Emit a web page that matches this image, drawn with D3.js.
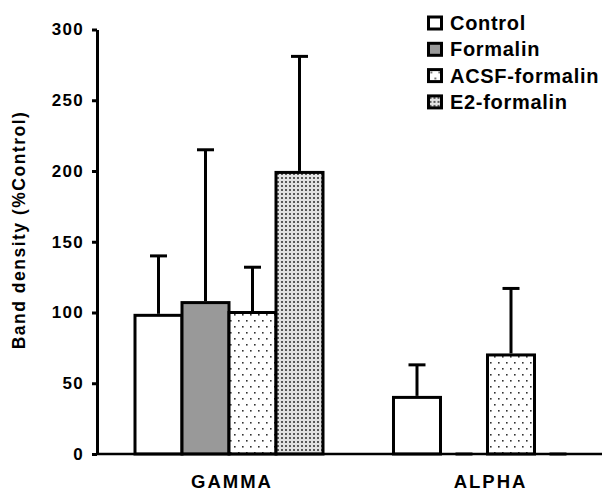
<!DOCTYPE html>
<html>
<head>
<meta charset="utf-8">
<script src="https://cdn.jsdelivr.net/npm/d3@7"></script>
<style>
  body { margin: 0; background: #fff; }
  svg text { font-family: Arial, "Liberation Sans", sans-serif; font-weight: bold; fill: #000; }
</style>
</head>
<body>
<div id="chart"></div>
<script>
// data
const groups = ["GAMMA", "ALPHA"];
const series = ["Control", "Formalin", "ACSF-formalin", "E2-formalin"];
const gammaMean = [98, 107, 100, 199];
const gammaErr = [42, 108, 32, 82];
const alphaMean = [40, 0, 70, 0];
const alphaErr = [23, 0, 47, 0];
const yTicks = [0, 50, 100, 150, 200, 250, 300];

const width = 606, height = 492;

const svg = d3.select("#chart").append("svg")
  .attr("width", width)
  .attr("height", height);

// patterns for the bar fills
const defs = svg.append("defs");

const sparse = defs.append("pattern")
  .attr("id", "sparseDots")
  .attr("patternUnits", "userSpaceOnUse")
  .attr("width", 8).attr("height", 12);
sparse.append("rect").attr("width", 8).attr("height", 12).attr("fill", "#fff");
sparse.append("rect").attr("x", 2).attr("y", 2).attr("width", 1.6).attr("height", 1.6).attr("fill", "#333");
sparse.append("rect").attr("x", 6).attr("y", 8).attr("width", 1.6).attr("height", 1.6).attr("fill", "#333");

const dense = defs.append("pattern")
  .attr("id", "denseDots")
  .attr("patternUnits", "userSpaceOnUse")
  .attr("width", 4).attr("height", 4);
dense.append("rect").attr("width", 4).attr("height", 4).attr("fill", "#e2e2e2");
dense.append("rect").attr("x", 1).attr("y", 1).attr("width", 2).attr("height", 2).attr("fill", "#5a5a5a");

const fills = ["#ffffff", "#999999", "url(#sparseDots)", "url(#denseDots)"];

// scales
const y = d3.scaleLinear().domain([0, 300]).range([454, 29.5]);

const x0 = d3.scaleBand()
  .domain(groups)
  .range([135, 581.5])
  .paddingInner(0.2727)
  .paddingOuter(0);

const x1 = d3.scaleBand()
  .domain(series)
  .range([0, x0.bandwidth()]);

const rows = [];
groups.forEach(function(g, gi) {
  const m = gi === 0 ? gammaMean : alphaMean;
  const e = gi === 0 ? gammaErr : alphaErr;
  series.forEach(function(s, si) {
    rows.push({ group: g, key: s, idx: si, value: m[si], err: e[si] });
  });
});

// bars
svg.append("g").selectAll("rect")
  .data(rows.filter(d => d.value > 0))
  .enter().append("rect")
  .attr("x", d => x0(d.group) + x1(d.key))
  .attr("y", d => y(d.value))
  .attr("width", x1.bandwidth())
  .attr("height", d => y(0) - y(d.value))
  .attr("fill", d => fills[d.idx])
  .attr("stroke", "#000")
  .attr("stroke-width", 3);

// error bars (upper only)
const err = svg.append("g").attr("stroke", "#000").attr("stroke-width", 3);
const cx = d => x0(d.group) + x1(d.key) + x1.bandwidth() / 2;
err.selectAll("line.v")
  .data(rows.filter(d => d.err > 0))
  .enter().append("line")
  .attr("class", "v")
  .attr("x1", cx).attr("x2", cx)
  .attr("y1", d => y(d.value) - 1.5)
  .attr("y2", d => y(d.value + d.err));
err.selectAll("line.cap")
  .data(rows)
  .enter().append("line")
  .attr("class", "cap")
  .attr("x1", d => cx(d) - 8.5)
  .attr("x2", d => cx(d) + 8.5)
  .attr("y1", d => y(d.value + d.err))
  .attr("y2", d => y(d.value + d.err));

// y axis
const yAxis = svg.append("g")
  .attr("transform", "translate(97,0)")
  .call(d3.axisLeft(y).tickValues(yTicks).tickSize(5).tickSizeOuter(0).tickPadding(8));
yAxis.select(".domain").attr("stroke-width", 3);
yAxis.selectAll(".tick line").attr("stroke-width", 3);
yAxis.selectAll(".tick text")
  .style("font-size", "17px")
  .style("letter-spacing", "1.3px");

// x axis line and group labels
svg.append("line")
  .attr("x1", 96).attr("x2", 602)
  .attr("y1", y(0)).attr("y2", y(0))
  .attr("stroke", "#000").attr("stroke-width", 2.5);

const xAxis = svg.append("g")
  .attr("transform", "translate(0," + y(0) + ")")
  .call(d3.axisBottom(x0).tickSize(0).tickPadding(21));
xAxis.select(".domain").remove();
xAxis.selectAll(".tick text")
  .style("font-size", "18.5px")
  .style("letter-spacing", "2px")
  .attr("dx", 3);

// y axis title
svg.append("text")
  .attr("transform", "translate(25,230) rotate(-90)")
  .attr("text-anchor", "middle")
  .style("font-size", "17.5px")
  .style("letter-spacing", "1.5px")
  .text("Band density (%Control)");

// legend
const legend = svg.append("g").selectAll("g")
  .data(series)
  .enter().append("g")
  .attr("transform", (d, i) => "translate(428.5," + (17 + i * 26.3) + ")");
legend.append("rect")
  .attr("width", 13).attr("height", 12)
  .attr("fill", (d, i) => fills[i])
  .attr("stroke", "#000").attr("stroke-width", 3);
legend.append("text")
  .attr("x", 21.5)
  .attr("y", 13)
  .style("font-size", "20px")
  .style("letter-spacing", "0.7px")
  .text(d => d);
</script>
</body>
</html>
